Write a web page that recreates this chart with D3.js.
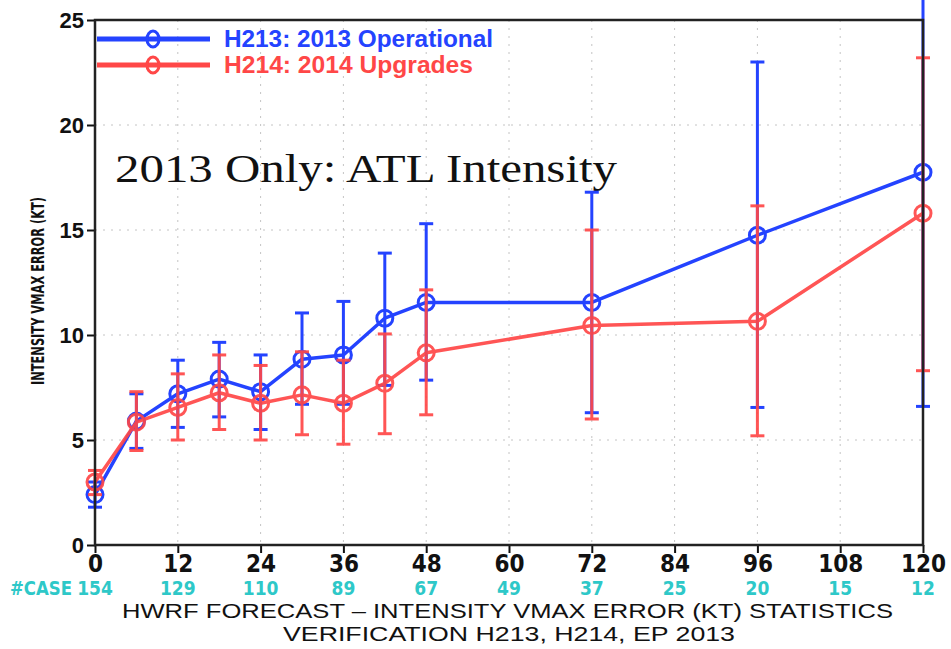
<!DOCTYPE html>
<html>
<head>
<meta charset="utf-8">
<script src="https://cdn.jsdelivr.net/npm/d3@7"></script>
<style>
  html, body { margin: 0; padding: 0; background: #ffffff; }
  svg { display: block; }
</style>
</head>
<body>
<svg id="chart" width="951" height="649"></svg>
<script>
// ---- data ----
const leadHours = [0, 6, 12, 18, 24, 30, 36, 42, 48, 72, 96, 120];

const h213Mean = [2.4, 5.9, 7.2, 7.9, 7.3, 8.85, 9.05, 10.8, 11.55, 11.55, 14.75, 17.75];
const h213Low  = [1.8, 4.6, 5.6, 6.1, 5.5, 6.7, 6.7, 7.6, 7.85, 6.3, 6.55, 6.6];
const h213High = [3.0, 7.2, 8.8, 9.65, 9.05, 11.05, 11.6, 13.9, 15.3, 16.8, 23.0, 29.0];

const h214Mean = [3.0, 5.85, 6.55, 7.25, 6.75, 7.15, 6.75, 7.7, 9.15, 10.45, 10.65, 15.8];
const h214Low  = [2.4, 4.5, 5.0, 5.5, 5.0, 5.25, 4.8, 5.3, 6.2, 6.0, 5.2, 8.3];
const h214High = [3.55, 7.3, 8.15, 9.05, 8.55, 9.2, 8.8, 10.05, 12.15, 15.0, 16.15, 23.2];

const xTicks = [0, 12, 24, 36, 48, 60, 72, 84, 96, 108, 120];
const yTicks = [0, 5, 10, 15, 20, 25];
const caseCounts = [154, 129, 110, 89, 67, 49, 37, 25, 20, 15, 12];

const seriesNames = ["H213: 2013 Operational", "H214: 2014 Upgrades"];
const seriesColors = ["#2443ff", "#ff4747"];

const titleLines = ["HWRF FORECAST \u2013 INTENSITY VMAX ERROR (KT) STATISTICS",
                    "VERIFICATION H213, H214, EP 2013"];
const yLabel = "INTENSITY VMAX ERROR (KT)";
const annotation = "2013 Only: ATL Intensity";

// ---- layout ----
const svg = d3.select("#chart");
const pL = 95, pR = 923, pT = 20, pB = 545;

const x = d3.scaleLinear().domain([0, 120]).range([pL, pR]);
const y = d3.scaleLinear().domain([0, 25]).range([pB, pT]);

const sans = "'Liberation Sans', Arial, sans-serif";
const narrow = "'Liberation Sans Narrow', 'Arial Narrow', 'DejaVu Sans Condensed', sans-serif";

// grid
const grid = svg.append("g");
grid.selectAll("line.gx").data(xTicks.filter(d => d > 0 && d < 120)).enter()
  .append("line")
  .attr("x1", d => x(d)).attr("x2", d => x(d))
  .attr("y1", pT).attr("y2", pB)
  .attr("stroke", "#c4c4c4").attr("stroke-width", 1).attr("stroke-dasharray", "2,6");
grid.selectAll("line.gy").data(yTicks.filter(d => d > 0 && d < 25)).enter()
  .append("line")
  .attr("x1", pL).attr("x2", pR)
  .attr("y1", d => y(d)).attr("y2", d => y(d))
  .attr("stroke", "#c4c4c4").attr("stroke-width", 1).attr("stroke-dasharray", "2,6");

// axes
const yAxis = d3.axisLeft(y).tickValues(yTicks).tickSize(8).tickPadding(3);
const gy = svg.append("g").attr("transform", `translate(${pL},0)`).call(yAxis);
gy.select(".domain").remove();
gy.selectAll(".tick line").attr("stroke", "#111").attr("stroke-width", 2);
gy.selectAll(".tick text").attr("font-family", sans).attr("font-weight", "bold")
  .attr("font-size", 22).attr("fill", "#111").attr("dy", "0.36em");

const xAxis = d3.axisBottom(x).tickValues(xTicks).tickSize(8).tickPadding(2);
const gx = svg.append("g").attr("transform", `translate(0,${pB})`).call(xAxis);
gx.select(".domain").remove();
gx.selectAll(".tick line").attr("stroke", "#111").attr("stroke-width", 2);
gx.selectAll(".tick text").attr("font-family", narrow).attr("font-weight", "bold")
  .attr("font-size", 24).attr("fill", "#111").attr("dy", "0.72em");

// case counts
svg.append("g").selectAll("text").data(caseCounts).enter().append("text")
  .attr("x", (d, i) => x(xTicks[i])).attr("y", 595)
  .attr("text-anchor", "middle")
  .attr("font-family", narrow).attr("font-weight", "bold").attr("font-size", 19)
  .attr("fill", "#2ec8c8")
  .text(d => d);
svg.append("text").attr("x", 10).attr("y", 595)
  .attr("font-family", narrow).attr("font-weight", "bold").attr("font-size", 19)
  .attr("fill", "#2ec8c8").attr("textLength", 62).attr("lengthAdjust", "spacingAndGlyphs")
  .text("#CASE");

// titles
svg.append("text").attr("x", 122).attr("y", 618)
  .attr("font-family", sans).attr("font-size", 20).attr("fill", "#111")
  .attr("textLength", 771).attr("lengthAdjust", "spacingAndGlyphs")
  .text(titleLines[0]);
svg.append("text").attr("x", 283).attr("y", 641)
  .attr("font-family", sans).attr("font-size", 20).attr("fill", "#111")
  .attr("textLength", 452).attr("lengthAdjust", "spacingAndGlyphs")
  .text(titleLines[1]);

// y label
svg.append("text")
  .attr("transform", "translate(44,291) rotate(-90)")
  .attr("text-anchor", "middle")
  .attr("font-family", narrow).attr("font-weight", "bold").attr("font-size", 18).attr("fill", "#111")
  .attr("textLength", 188).attr("lengthAdjust", "spacingAndGlyphs")
  .text(yLabel);

// annotation
svg.append("text").attr("x", 115).attr("y", 182)
  .attr("font-family", "'Liberation Serif', 'Times New Roman', serif").attr("font-size", 40)
  .attr("fill", "#111").attr("textLength", 502).attr("lengthAdjust", "spacingAndGlyphs")
  .text(annotation);

// series
const series = [
  { mean: h213Mean, lo: h213Low, hi: h213High, color: seriesColors[0] },
  { mean: h214Mean, lo: h214Low, hi: h214High, color: seriesColors[1] }
];
const line = d3.line().x(d => x(d.h)).y(d => y(d.v));

series.forEach((s, si) => {
  const pts = leadHours.map((h, i) => ({ h, v: s.mean[i], lo: s.lo[i], hi: s.hi[i] }));
  const g = svg.append("g").attr("opacity", si === 1 ? 0.92 : 1);
  g.selectAll("line.eb").data(pts).enter().append("line")
    .attr("x1", d => x(d.h)).attr("x2", d => x(d.h))
    .attr("y1", d => y(d.lo)).attr("y2", d => y(d.hi))
    .attr("stroke", s.color).attr("stroke-width", 3);
  ["lo", "hi"].forEach(k => {
    g.selectAll("line.cap" + k).data(pts).enter().append("line")
      .attr("x1", d => x(d.h) - 7).attr("x2", d => x(d.h) + 7)
      .attr("y1", d => y(d[k])).attr("y2", d => y(d[k]))
      .attr("stroke", s.color).attr("stroke-width", 3);
  });
  g.append("path").datum(pts).attr("d", line)
    .attr("fill", "none").attr("stroke", s.color).attr("stroke-width", 3.5)
    .attr("stroke-linejoin", "round");
  g.selectAll("circle").data(pts).enter().append("circle")
    .attr("cx", d => x(d.h)).attr("cy", d => y(d.v)).attr("r", 8)
    .attr("fill", "none").attr("stroke", s.color).attr("stroke-width", 3);
});

// frame
svg.append("rect").attr("x", pL).attr("y", pT)
  .attr("width", pR - pL).attr("height", pB - pT)
  .attr("fill", "none").attr("stroke", "#222").attr("stroke-width", 2.5);

// legend
const legendY = [39, 65];
const legendTextY = [47, 73];
const legendTextW = [269, 249];
seriesNames.forEach((name, i) => {
  const lg = svg.append("g");
  lg.append("line").attr("x1", 97).attr("x2", 210).attr("y1", legendY[i]).attr("y2", legendY[i])
    .attr("stroke", seriesColors[i]).attr("stroke-width", 5);
  lg.append("ellipse").attr("cx", 153).attr("cy", legendY[i]).attr("rx", 6).attr("ry", 8)
    .attr("fill", "none").attr("stroke", seriesColors[i]).attr("stroke-width", 3);
  lg.append("text").attr("x", 224).attr("y", legendTextY[i])
    .attr("font-family", sans).attr("font-weight", "bold").attr("font-size", 23)
    .attr("fill", seriesColors[i])
    .attr("textLength", legendTextW[i]).attr("lengthAdjust", "spacingAndGlyphs")
    .text(name);
});
</script>
</body>
</html>
